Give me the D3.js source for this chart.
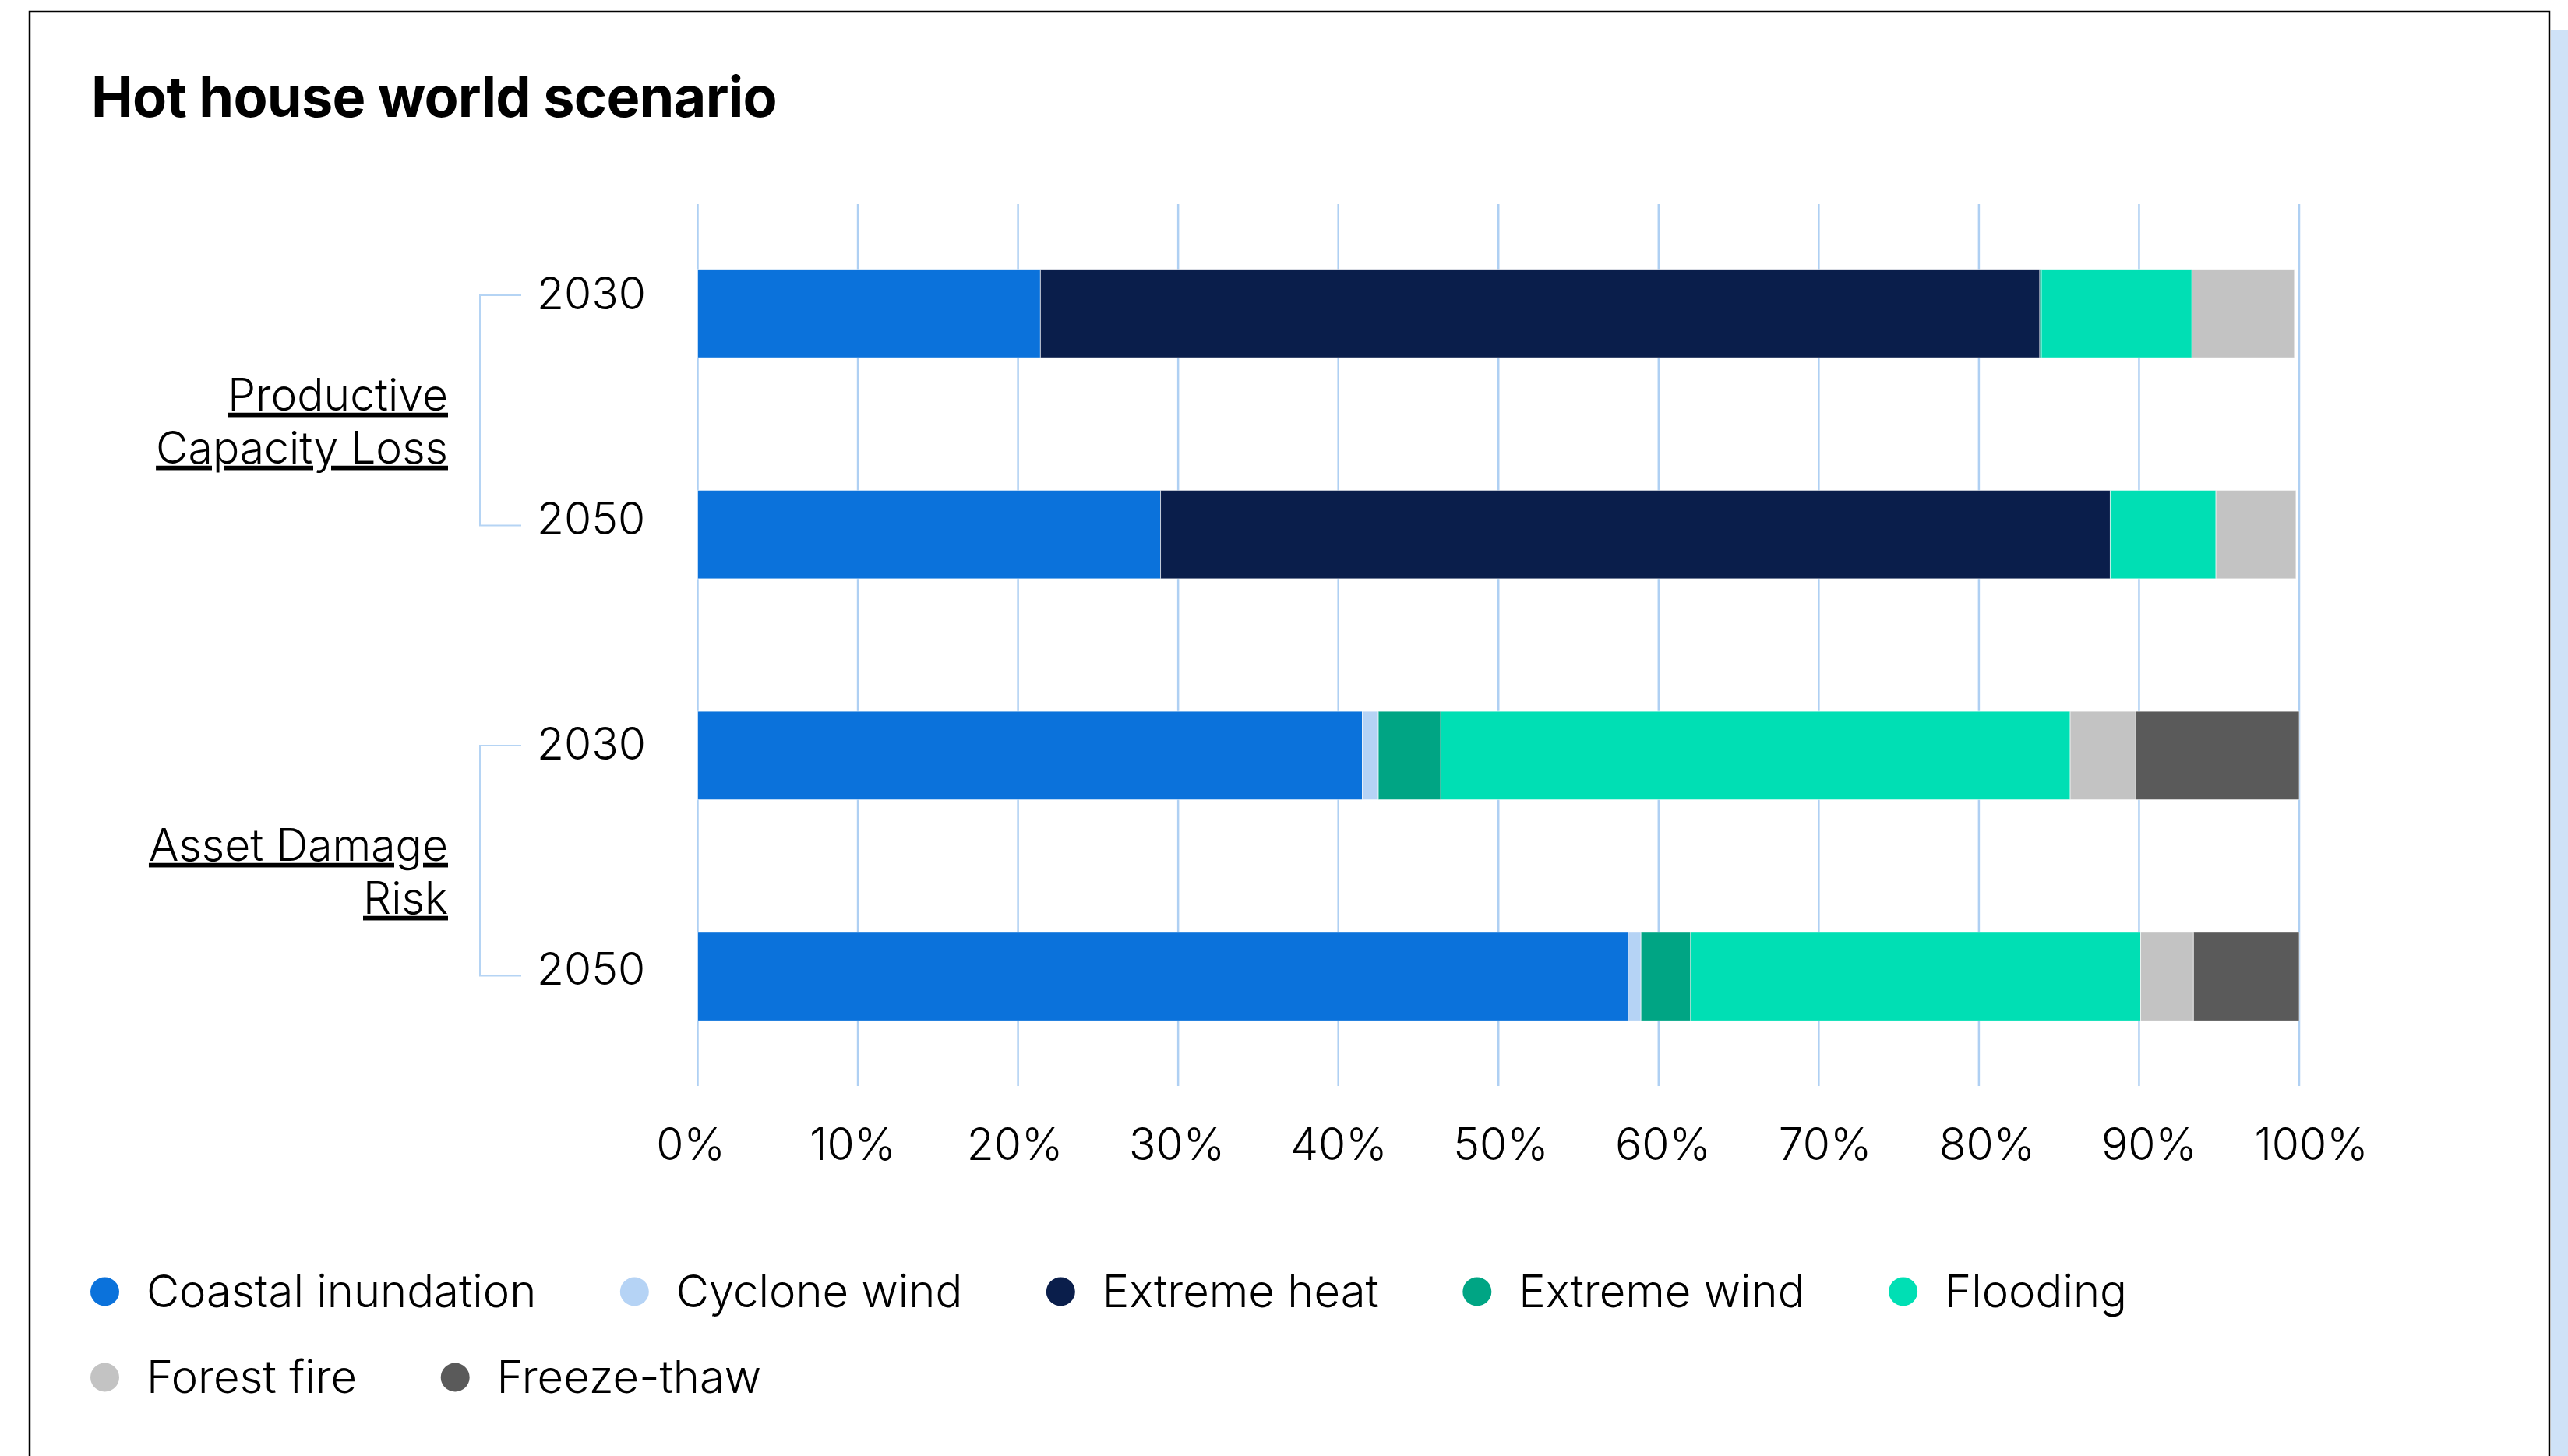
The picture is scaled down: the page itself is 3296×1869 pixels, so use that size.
<!DOCTYPE html>
<html>
<head>
<meta charset="utf-8">
<script src="https://cdn.jsdelivr.net/npm/d3@7"></script>
<style>
  html, body { margin: 0; padding: 0; background: #ffffff; }
  svg { display: block; font-family: Inter, "Noto Sans", sans-serif; }
</style>
</head>
<body>
<svg id="chart" width="3296" height="1869"></svg>
<script>
// Hazard categories (stack order, left to right)
const hazards = ["Coastal inundation", "Cyclone wind", "Extreme heat", "Extreme wind", "Flooding", "Forest fire", "Freeze-thaw"];
const hazardColors = ["#0b72db", "#b5d3f5", "#0a1e4b", "#00a584", "#00dfb4", "#c3c3c3", "#5a5a5a"];

// Risk groups and horizons
const groups = ["Productive Capacity Loss", "Asset Damage Risk"];
const groupLines = [["Productive", "Capacity Loss"], ["Asset Damage", "Risk"]];
const years = ["2030", "2050"];

// Share of risk by hazard (%), one value per bar: PCL 2030, PCL 2050, ADR 2030, ADR 2050
const coastalInundation = [21.4, 28.9, 41.5, 58.1];
const cycloneWind       = [0.0, 0.0, 1.0, 0.8];
const extremeHeat       = [62.4, 59.3, 0.0, 0.0];
const extremeWind       = [0.1, 0.0, 3.9, 3.1];
const flooding          = [9.4, 6.6, 39.3, 28.1];
const forestFire        = [6.4, 5.0, 4.1, 3.3];
const freezeThaw        = [0.0, 0.0, 10.2, 6.6];

const xTicks = [0, 10, 20, 30, 40, 50, 60, 70, 80, 90, 100];

const seriesValues = [coastalInundation, cycloneWind, extremeHeat, extremeWind, flooding, forestFire, freezeThaw];
const rowKeys = [];
groups.forEach(g => years.forEach(y => rowKeys.push(g + "|" + y)));
const rows = rowKeys.map((k, i) => {
  const o = { key: k };
  hazards.forEach((h, j) => { o[h] = seriesValues[j][i]; });
  return o;
});

const svg = d3.select("#chart");
const textWeight = 300;

// card frame and side panel
svg.append("rect").attr("x", 3274).attr("y", 38).attr("width", 30).attr("height", 1900).attr("fill", "#cfe2f7");
svg.append("rect").attr("x", 38).attr("y", 15).attr("width", 3234).attr("height", 1900)
  .attr("fill", "#ffffff").attr("stroke", "#000000").attr("stroke-width", 2.5);

// title
svg.append("text").attr("x", 117).attr("y", 150)
  .attr("font-size", 72).attr("font-weight", 700).attr("fill", "#000")
  .attr("letter-spacing", -0.75)
  .text("Hot house world scenario");

// scales
const plotTop = 262, plotBottom = 1394;
const x = d3.scaleLinear().domain([0, 100]).range([895.5, 2951]);
const xLabel = d3.scaleLinear().domain([0, 100]).range([886, 2966]);
const y = d3.scaleBand().domain(rowKeys).range([plotTop, plotBottom]).paddingInner(0.6).paddingOuter(0.295);
const yLabel = d3.scalePoint().domain(rowKeys).range([376, 1243]);
const color = d3.scaleOrdinal().domain(hazards).range(hazardColors);

// gridlines
svg.append("g").selectAll("line").data(xTicks).join("line")
  .attr("x1", d => x(d)).attr("x2", d => x(d))
  .attr("y1", plotTop).attr("y2", plotBottom)
  .attr("stroke", "#afd0f3").attr("stroke-width", 2.5);

// stacked bars
const stacked = d3.stack().keys(hazards)(rows);
svg.append("g").selectAll("g").data(stacked).join("g")
  .attr("fill", d => color(d.key))
  .selectAll("rect").data(d => d.filter(s => s[1] - s[0] > 0)).join("rect")
  .attr("x", d => x(d[0]))
  .attr("width", d => x(d[1]) - x(d[0]))
  .attr("y", d => y(d.data.key))
  .attr("height", y.bandwidth())
  .attr("stroke", "#ffffff").attr("stroke-width", 1).attr("stroke-opacity", 0.6);

// x axis labels
const xAxis = d3.axisBottom(xLabel).tickValues(xTicks).tickSize(0).tickPadding(0).tickFormat(d => d + "%");
const gx = svg.append("g").attr("transform", "translate(0,1489)").call(xAxis);
gx.select(".domain").remove();
gx.selectAll("text").attr("font-size", 57).attr("fill", "#000").attr("dy", 0)
  .attr("font-weight", textWeight)
  .attr("font-family", "Inter, 'Noto Sans', sans-serif");

// year labels
svg.append("g").selectAll("text").data(rowKeys).join("text")
  .attr("x", 689).attr("y", d => yLabel(d) + 21)
  .attr("font-size", 57).attr("font-weight", textWeight).attr("fill", "#000")
  .text(d => d.split("|")[1]);

// group brackets and labels
groups.forEach((g, gi) => {
  const k0 = g + "|" + years[0], k1 = g + "|" + years[years.length - 1];
  const yTop = yLabel(k0) + 3, yBot = yLabel(k1) + 9.5;
  const path = d3.path();
  path.moveTo(669, yTop); path.lineTo(616, yTop); path.lineTo(616, yBot); path.lineTo(669, yBot);
  svg.append("path").attr("d", path.toString()).attr("fill", "none")
    .attr("stroke", "#b5d4f4").attr("stroke-width", 2);
  const mid = (yTop + yBot) / 2;
  const t = svg.append("text").attr("text-anchor", "end").attr("font-size", 57)
    .attr("font-weight", textWeight).attr("fill", "#000")
    .attr("text-decoration", "underline");
  groupLines[gi].forEach((line, li) => {
    t.append("tspan").attr("x", 575).attr("y", mid + li * 68).text(line);
  });
});

// legend
const legend = svg.append("g");
let cx = 134.5, row = 0;
const rowY = [1658, 1768];
hazards.forEach((h, i) => {
  const item = legend.append("g");
  const label = item.append("text").attr("font-size", 58).attr("font-weight", textWeight)
    .attr("fill", "#000").text(h);
  const w = label.node().getComputedTextLength();
  if (cx + 53.4 + w > 3000) { row += 1; cx = 134.5; }
  item.append("circle").attr("cx", cx).attr("cy", rowY[row]).attr("r", 18.5).attr("fill", color(h));
  label.attr("x", cx + 53.4).attr("y", rowY[row] + 20);
  cx = cx + 53.4 + w + 126;
});
</script>
</body>
</html>
